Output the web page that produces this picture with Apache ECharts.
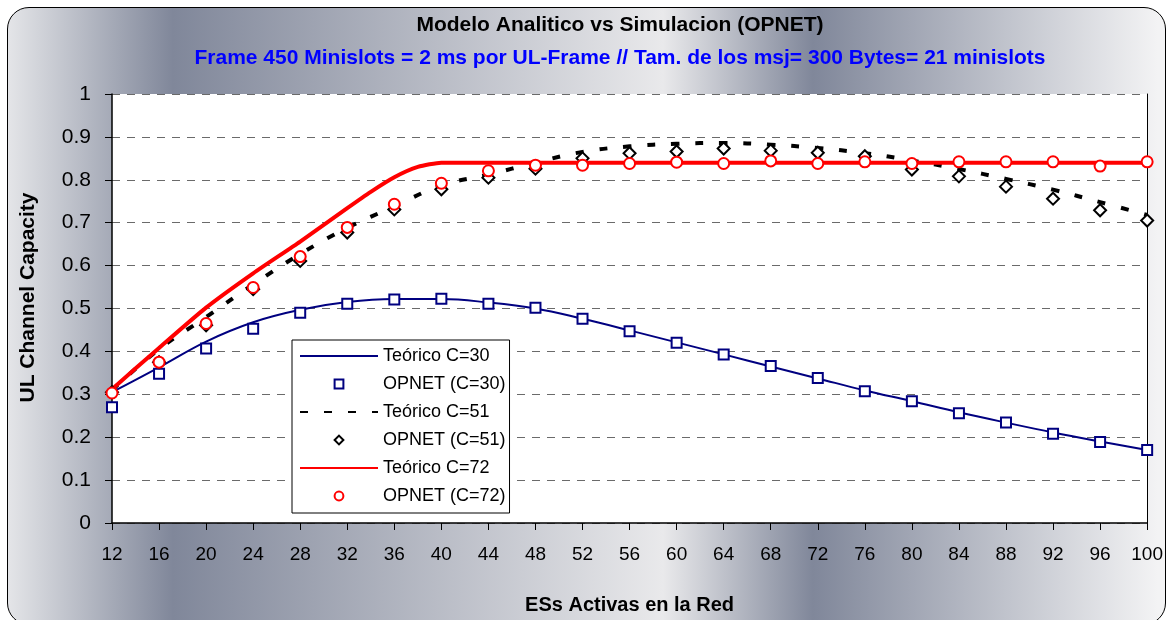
<!DOCTYPE html>
<html>
<head>
<meta charset="utf-8">
<script src="https://cdn.jsdelivr.net/npm/echarts@6/dist/echarts.min.js"></script>
<style>
  html, body { margin: 0; padding: 0; background: #fff; overflow: hidden; }
  #bg {
    position: absolute; left: 7px; top: 7px; width: 1157px; height: 616px;
    border: 1.5px solid #000; border-radius: 22px;
    background: linear-gradient(to right, #e4e5e8 0px, #80879a 165px, #e9e9eb 655px, #80879a 805px, #f3f3f4 1150px);
  }
  #chart { position: absolute; left: 0; top: 0; width: 1166px; height: 620px; }
</style>
</head>
<body>
<div id="bg"></div>
<div id="chart"></div>
<script>
  // ESs activas (eje x)
  var esActivas = [12, 16, 20, 24, 28, 32, 36, 40, 44, 48, 52, 56, 60, 64, 68, 72, 76, 80, 84, 88, 92, 96, 100];

  // C = 30
  var teoricoC30 = [0.305, 0.363, 0.423, 0.468, 0.497, 0.515, 0.522, 0.522, 0.514, 0.500, 0.476, 0.449,
                    0.421, 0.393, 0.365, 0.337, 0.309, 0.284, 0.258, 0.234, 0.211, 0.190, 0.170];
  var opnetC30 = [0.270, 0.348, 0.407, 0.453, 0.490, 0.511, 0.521, 0.523, 0.511, 0.502, 0.476, 0.447,
                  0.420, 0.393, 0.366, 0.338, 0.307, 0.284, 0.256, 0.234, 0.208, 0.189, 0.170];

  // C = 51
  var teoricoC51 = [0.310, 0.405, 0.480, 0.556, 0.627, 0.688, 0.738, 0.787, 0.812, 0.840, 0.865, 0.878,
                    0.884, 0.886, 0.882, 0.874, 0.862, 0.845, 0.825, 0.802, 0.777, 0.748, 0.718];
  var opnetC51 = [0.305, 0.375, 0.461, 0.545, 0.611, 0.677, 0.731, 0.778, 0.805, 0.826, 0.850, 0.862,
                  0.866, 0.873, 0.868, 0.863, 0.855, 0.824, 0.808, 0.784, 0.756, 0.729, 0.705];

  // C = 72 (la curva teorica tiene puntos extra en el codo)
  var esTeoricoC72 = [12, 16, 20, 24, 28, 32, 34, 36, 38, 40, 44, 48, 52, 56, 60, 64, 68, 72, 76, 80, 84, 88, 92, 96, 100];
  var teoricoC72 = [0.312, 0.408, 0.502, 0.582, 0.656, 0.734, 0.772, 0.806, 0.830, 0.840, 0.840, 0.840, 0.840,
                    0.840, 0.840, 0.840, 0.840, 0.840, 0.840, 0.840, 0.840, 0.840, 0.840, 0.840, 0.840];
  var opnetC72 = [0.303, 0.375, 0.465, 0.549, 0.621, 0.689, 0.743, 0.792, 0.821, 0.834, 0.834, 0.838,
                  0.841, 0.838, 0.844, 0.838, 0.842, 0.838, 0.842, 0.842, 0.842, 0.832, 0.842];

  function pares(xs, ys) {
    return xs.map(function (x, i) { return [x, ys[i]] })
  }

  var fuente = 'Liberation Sans, Arial, sans-serif';
  var chart = echarts.init(document.getElementById('chart'));

  var sinSimbolo = { opacity: 0 };

  var option = {
    backgroundColor: 'transparent',
    animation: false,
    textStyle: { fontFamily: fuente },
    title: {
      text: 'Modelo Analitico vs Simulacion (OPNET)',
      subtext: 'Frame 450 Minislots = 2 ms por UL-Frame // Tam. de los msj= 300 Bytes= 21 minislots',
      left: 615,
      top: 10,
      textAlign: 'center',
      itemGap: 12,
      textStyle: { fontSize: 21, fontWeight: 'bold', color: '#000', fontFamily: fuente },
      subtextStyle: { fontSize: 21, fontWeight: 'bold', color: '#0000ff', fontFamily: fuente }
    },
    grid: {
      left: 112,
      right: 12,
      top: 94,
      bottom: 91,
      show: true,
      backgroundColor: '#fff',
      borderWidth: 0
    },
    legend: {
      orient: 'vertical',
      left: 292,
      top: 340,
      backgroundColor: '#fff',
      borderColor: '#000',
      borderWidth: 1,
      padding: [7, 4, 8, 7],
      itemWidth: 78,
      itemHeight: 11,
      itemGap: 10,
      textStyle: { fontSize: 18, color: '#000', fontFamily: fuente },
      data: [
        { name: 'Teórico C=30', itemStyle: sinSimbolo },
        'OPNET (C=30)',
        { name: 'Teórico C=51', itemStyle: sinSimbolo },
        'OPNET (C=51)',
        { name: 'Teórico C=72', itemStyle: sinSimbolo },
        'OPNET (C=72)'
      ]
    },
    xAxis: {
      type: 'value',
      min: 12,
      max: 100,
      interval: 4,
      name: 'ESs Activas en la Red',
      nameLocation: 'middle',
      nameGap: 72,
      nameTextStyle: { fontSize: 20, fontWeight: 'bold', color: '#000' },
      axisLine: { lineStyle: { color: '#000', width: 1.5 } },
      axisTick: { length: 7, lineStyle: { color: '#000' } },
      axisLabel: { fontSize: 19, color: '#000', margin: 22 },
      splitLine: { show: false }
    },
    yAxis: [{
      type: 'value',
      min: 0,
      max: 1,
      interval: 0.1,
      name: 'UL Channel Capacity',
      nameLocation: 'middle',
      nameGap: 73,
      nameTextStyle: { fontSize: 21, fontWeight: 'bold', color: '#000', padding: [0, 0, 0, 22] },
      axisLine: { show: true, lineStyle: { color: '#000', width: 1.5 } },
      axisTick: { show: true, length: 7, lineStyle: { color: '#000' } },
      axisLabel: { fontSize: 21, color: '#000', margin: 21 },
      splitLine: { show: true, lineStyle: { color: '#6a6a6a', width: 1, type: [8, 7] } }
    }, {
      type: 'value',
      min: 0,
      max: 1,
      position: 'right',
      axisLine: { show: true, lineStyle: { color: '#000', width: 1 } },
      axisTick: { show: false },
      axisLabel: { show: false },
      splitLine: { show: false }
    }],
    series: [
      {
        name: 'Teórico C=30',
        type: 'line',
        smooth: 0.4,
        symbol: 'none',
        lineStyle: { color: '#000080', width: 2 },
        itemStyle: { color: '#000080' },
        data: pares(esActivas, teoricoC30)
      },
      {
        name: 'OPNET (C=30)',
        type: 'line',
        symbol: 'rect',
        symbolSize: 10,
        lineStyle: { opacity: 0, width: 0 },
        itemStyle: { color: '#fff', borderColor: '#000080', borderWidth: 2 },
        data: pares(esActivas, opnetC30)
      },
      {
        name: 'Teórico C=51',
        type: 'line',
        smooth: 0.4,
        symbol: 'none',
        lineStyle: { color: '#000', width: 4, type: [8, 16] },
        itemStyle: { color: '#000' },
        data: pares(esActivas, teoricoC51)
      },
      {
        name: 'OPNET (C=51)',
        type: 'line',
        symbol: 'diamond',
        symbolSize: 12,
        lineStyle: { opacity: 0, width: 0 },
        itemStyle: { color: '#fff', borderColor: '#000', borderWidth: 2 },
        data: pares(esActivas, opnetC51)
      },
      {
        name: 'Teórico C=72',
        type: 'line',
        smooth: 0.2,
        symbol: 'none',
        lineStyle: { color: '#ff0000', width: 4 },
        itemStyle: { color: '#ff0000' },
        data: pares(esTeoricoC72, teoricoC72)
      },
      {
        name: 'OPNET (C=72)',
        type: 'line',
        symbol: 'circle',
        symbolSize: 11,
        lineStyle: { opacity: 0, width: 0 },
        itemStyle: { color: '#fff', borderColor: '#ff0000', borderWidth: 2 },
        data: pares(esActivas, opnetC72)
      }
    ]
  };

  chart.setOption(option);
</script>
</body>
</html>
